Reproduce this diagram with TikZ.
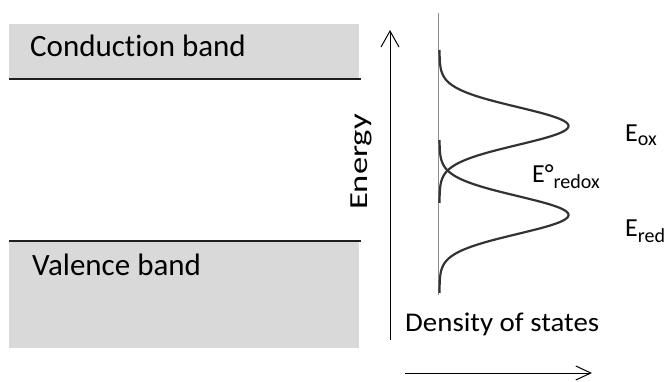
\documentclass[tikz,border=0pt]{standalone}
\usepackage{fontspec}
\setmainfont{Carlito}[Ligatures=NoCommon]
\usetikzlibrary{arrows.meta}
\definecolor{bandgray}{HTML}{D9D9D9}
\definecolor{edgecol}{HTML}{1E1E1E}
\definecolor{axisgray}{HTML}{8C8C8C}
\definecolor{curvecol}{HTML}{333333}
\begin{document}
\begin{tikzpicture}[x=1pt,y=-1pt,
  bandfill/.style={fill=bandgray},
  bandedge/.style={draw=edgecol, line width=2.6pt},
  bandlbl/.style={anchor=base west, inner sep=0pt, font=\fontsize{31}{36}\selectfont},
  elbl/.style={anchor=base west, inner sep=0pt, font=\fontsize{26}{30}\selectfont},
  dosaxis/.style={draw=axisgray, line width=1.6pt},
  doscurve/.style={draw=curvecol, line width=2.2pt},
  axarrow/.style={draw=black, line width=1pt},
]
\useasboundingbox (0,0) rectangle (670,382);

% bands
\fill[bandfill] (9,24) rectangle (359,78);
\draw[bandedge] (9,79) -- (361,79);
\fill[bandfill] (9,241) rectangle (359,348);
\draw[bandedge] (9,241) -- (361,241);
\node[bandlbl] (cb) at (30,57) {Conduction band};
\node[bandlbl] (vb) at (32,276) {Valence band};

% energy axis
\coordinate (eS) at (390,340);
\coordinate (eT) at (390,30);
\draw[axarrow, -{Straight Barb[length=16pt,width=18pt,line width=1pt]}] (eS) -- (eT);
\node[rotate=90, anchor=base, inner sep=0pt, font=\fontsize{26}{30}\selectfont] (en) at (367,162) {\scalebox{1.33}[1]{Energy}};

% DOS axis and curves
\coordinate (dB) at (438.5,295);
\coordinate (dT) at (438.5,13);
\draw[dosaxis] (dB) -- (dT);
\draw[doscurve] plot[smooth, samples=120, domain=-76:77] ({439.5+129*exp(-(\x)*(\x)/715)},{126+\x});
\draw[doscurve] plot[smooth, samples=120, domain=-75:78] ({439.5+129*exp(-(\x)*(\x)/715)},{215+\x});

% labels
\node[elbl] (eox) at (625,142) {E\textsubscript{\fontsize{20}{24}\selectfont ox}};
\node[elbl] (ered) at (625,237) {E\textsubscript{\fontsize{20}{24}\selectfont red}};
\node[elbl] (eredox) at (532,183) {E°\textsubscript{\fontsize{20}{24}\selectfont redox}};

% DOS label and arrow
\node[anchor=base west, inner sep=0pt, font=\fontsize{27}{32}\selectfont] (dos) at (405,332) {\scalebox{1.07}[1]{Density of states}};
\coordinate (hS) at (405,373);
\coordinate (hT) at (592,373);
\draw[axarrow, -{Straight Barb[length=15pt,width=14pt,line width=1pt]}] (hS) -- (hT);
\end{tikzpicture}
\end{document}
